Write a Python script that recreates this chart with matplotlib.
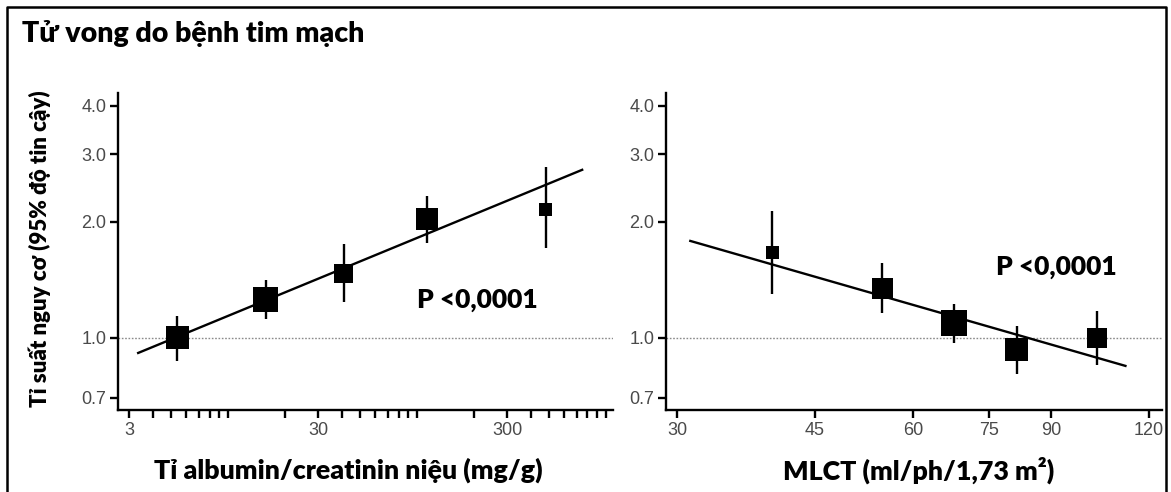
import numpy as np
import matplotlib.pyplot as plt
from matplotlib.lines import Line2D
from matplotlib.ticker import FixedLocator, NullFormatter, FixedFormatter

# urine albumin/creatinine ratio panel
acr_x = [5.4, 15.9, 41, 113, 480]
acr_hr = [1.0, 1.26, 1.47, 2.04, 2.16]
acr_lo = [0.87, 1.12, 1.24, 1.76, 1.71]
acr_hi = [1.14, 1.41, 1.75, 2.34, 2.78]
acr_weight = [23, 25, 19, 22, 13]
acr_fit_x = [3.35, 750]
acr_fit_y = [0.914, 2.73]

# eGFR panel
gfr_x = [39.7, 54.8, 67.7, 81.4, 103]
gfr_hr = [1.67, 1.34, 1.094, 0.931, 1.0]
gfr_lo = [1.30, 1.16, 0.97, 0.806, 0.851]
gfr_hi = [2.14, 1.56, 1.225, 1.074, 1.175]
gfr_weight = [13, 21, 26, 23, 20]
gfr_fit_x = [31.2, 112]
gfr_fit_y = [1.785, 0.846]

y_ticks = [0.7, 1.0, 2.0, 3.0, 4.0]
acr_ticks = [3, 30, 300]
acr_minor = [4, 5, 6, 7, 8, 9, 10, 20, 40, 50, 60, 70, 80, 90, 100, 200,
             400, 500, 600, 700, 800, 900, 1000]
gfr_ticks = [30, 45, 60, 75, 90, 120]

W, H = 1171, 492
bold = ['Lato', 'DejaVu Sans']
tickfont = 'Liberation Sans'
wt = 'heavy'


def fx(px):
    return px / W


def fy(py):
    return 1 - py / H


fig = plt.figure(figsize=(W / 100, H / 100), dpi=100)


def panel(left, right, x, hr, lo, hi, w, fitx, fity, xlim):
    ax = fig.add_axes([fx(left), fy(410), fx(right - left), (410 - 93) / H])
    ax.set_xscale('log')
    ax.set_yscale('log')
    ax.set_xlim(*xlim)
    ax.set_ylim(0.65, 4.32)
    ax.axhline(1.0, color='#8a8a8a', lw=1.0, ls=(0, (1.2, 1.2)), zorder=1)
    ax.vlines(x, lo, hi, color='black', lw=1.7, zorder=2)
    ax.scatter(x, hr, s=[(v * 0.72) ** 2 for v in w], marker='s',
               color='black', linewidths=0, zorder=3)
    ax.plot(fitx, fity, color='black', lw=1.7, zorder=4)
    for s in ['top', 'right']:
        ax.spines[s].set_visible(False)
    for s in ['left', 'bottom']:
        ax.spines[s].set_linewidth(1.7)
    ax.yaxis.set_major_locator(FixedLocator(y_ticks))
    ax.yaxis.set_major_formatter(FixedFormatter([f'{v:.1f}' for v in y_ticks]))
    ax.yaxis.set_minor_locator(FixedLocator([]))
    ax.tick_params(which='both', length=6, width=1.7, pad=2.5,
                   labelsize=13, labelcolor='#4a4a4a')
    return ax


ax1 = panel(118, 613, acr_x, acr_hr, acr_lo, acr_hi, acr_weight,
            acr_fit_x, acr_fit_y, (2.62, 1092))
ax1.xaxis.set_major_locator(FixedLocator(acr_ticks))
ax1.xaxis.set_major_formatter(FixedFormatter([str(t) for t in acr_ticks]))
ax1.xaxis.set_minor_locator(FixedLocator(acr_minor))
ax1.xaxis.set_minor_formatter(NullFormatter())

ax2 = panel(666, 1162, gfr_x, gfr_hr, gfr_lo, gfr_hi, gfr_weight,
            gfr_fit_x, gfr_fit_y, (29.05, 124.7))
ax2.xaxis.set_major_locator(FixedLocator(gfr_ticks))
ax2.xaxis.set_major_formatter(FixedFormatter([str(t) for t in gfr_ticks]))
ax2.xaxis.set_minor_locator(FixedLocator([]))

for ax in (ax1, ax2):
    for lab in ax.get_xticklabels() + ax.get_yticklabels():
        lab.set_fontfamily(tickfont)

fig.text(fx(22), fy(33), 'Tử vong do bệnh tim mạch', family=bold,
         fontweight=wt, fontsize=20.5, ha='left', va='center')
fig.text(fx(40), fy(249), 'Tỉ suất nguy cơ (95% độ tin cậy)', family=bold,
         fontweight=wt, fontsize=16, rotation=90, ha='center', va='center')
fig.text(fx(348), fy(470), 'Tỉ albumin/creatinin niệu (mg/g)', family=bold,
         fontweight=wt, fontsize=19.3, ha='center', va='center')
fig.text(fx(919), fy(470), 'MLCT (ml/ph/1,73 m²)', family=bold,
         fontweight=wt, fontsize=19.3, ha='center', va='center')
fig.text(fx(477), fy(300), 'P <0,0001', family=bold,
         fontweight=wt, fontsize=19, ha='center', va='center')
fig.text(fx(1056), fy(267), 'P <0,0001', family=bold,
         fontweight=wt, fontsize=19, ha='center', va='center')

# outer frame (bottom edge runs off the picture)
fig.add_artist(Line2D([fx(7), fx(7), fx(1166), fx(1166)],
                      [fy(H + 5), fy(7), fy(7), fy(H + 5)],
                      color='black', lw=1.8))

fig.savefig('out.png', dpi=100)
